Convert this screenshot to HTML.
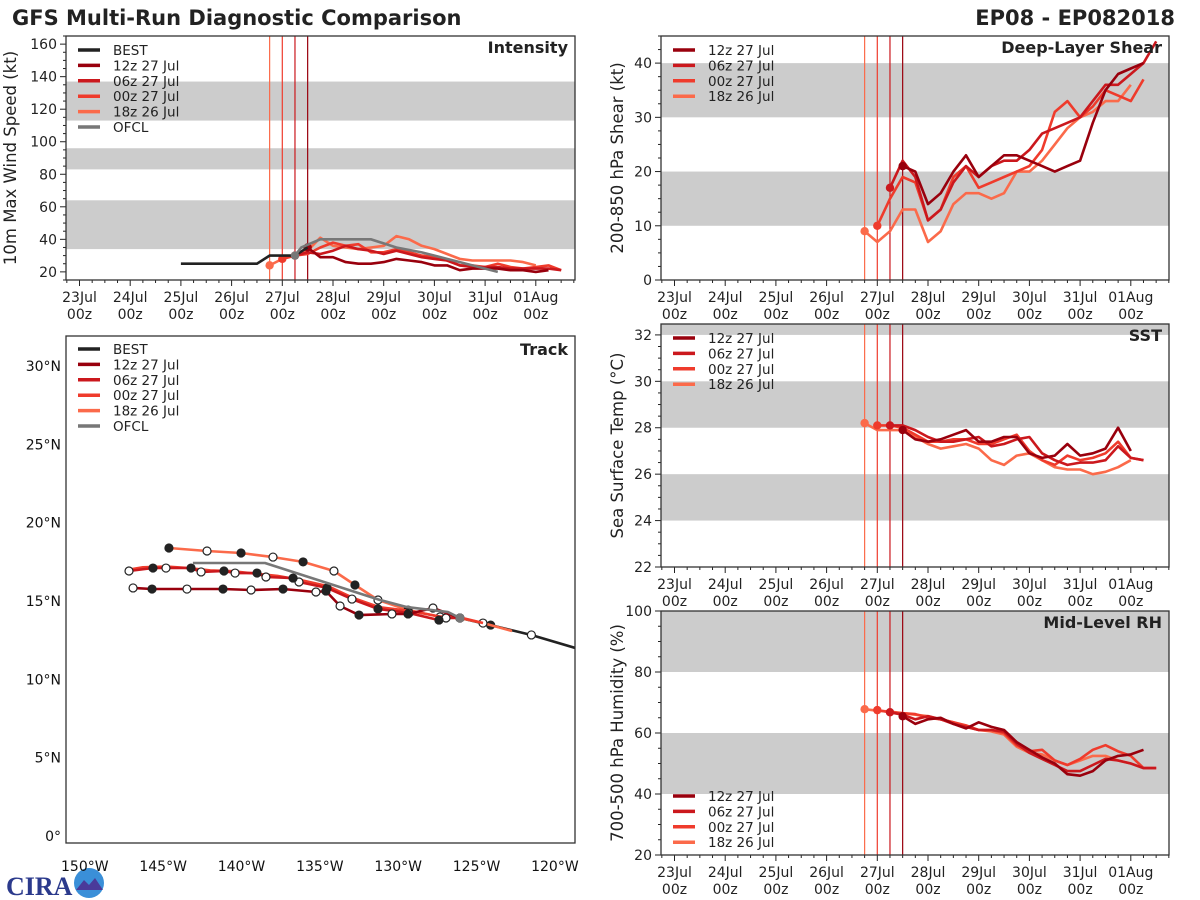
<!DOCTYPE html>
<html><head><meta charset="utf-8"><style>
html,body{margin:0;padding:0;background:#fff;}
svg{display:block;font-family:"DejaVu Sans","Liberation Sans",sans-serif;}
</style></head><body>
<svg id="fig" width="1200" height="900" viewBox="0 0 1200 900">
<rect width="1200" height="900" fill="#fff"/>
<text x="12" y="25" font-size="21" font-weight="bold" fill="#222">GFS Multi-Run Diagnostic Comparison</text>
<text x="1175" y="25" font-size="21" font-weight="bold" fill="#222" text-anchor="end">EP08 - EP082018</text>
<g>
<text x="6" y="895" font-size="26" font-weight="bold" fill="#2b3a8c" font-family="Liberation Serif,serif">CIRA</text>
<circle cx="89" cy="883" r="15" fill="#3a8fd8"/>
<path d="M76 890 L84 880 L89 885 L95 878 L103 890 Z" fill="#4a3a9a"/>
</g>
</svg>
<script>
// ---------- DATA ----------
const dayLabels=['23Jul','24Jul','25Jul','26Jul','27Jul','28Jul','29Jul','30Jul','31Jul','01Aug'];
const runNames=['12z 27 Jul','06z 27 Jul','00z 27 Jul','18z 26 Jul'];
const runStarts=[4.5,4.25,4.0,3.75];
// Intensity (kt), 6-hourly from run start
const int12z=[35,29,29,26,25,25,26,28,27,26,24,24,21,22,22,22,21,21,20,21];
const int06z=[30,32,31,33,36,34,33,31,33,31,29,28,27,24,23,23,23,22,22,22,22,21];
const int00z=[28,30,31,35,38,36,37,32,32,34,32,30,29,27,24,24,23,25,23,22,23,24,21];
const int18z=[24,28,30,33,41,36,35,34,35,36,42,40,36,34,31,28,27,27,27,27,26,24];
const bestT=[2,2.25,2.5,2.75,3,3.25,3.5,3.75,4,4.25,4.5];
const bestV=[25,25,25,25,25,25,25,30,30,30,35];
const ofclT=[4.25,4.375,4.75,5.75,6.25,6.75,7.25,8.25];
const ofclV=[30,35,40,40,35,32,28,20];
// Shear (kt)
const shr12z=[21,20,14,16,20,23,19,21,23,23,22,21,20,21,22,29,35,38,39,40];
const shr06z=[17,22,19,11,13,18,21,19,21,22,22,24,27,28,29,30,33,36,36,38,40,44];
const shr00z=[10,15,19,18,11,13,19,21,17,18,19,20,21,24,31,33,30,32,35,34,33,37];
const shr18z=[9,7,9,13,13,7,9,14,16,16,15,16,20,20,22,25,28,30,31,33,33,36];
// SST (C)
const sst12z=[27.9,27.5,27.4,27.5,27.7,27.9,27.4,27.4,27.6,27.6,26.9,26.7,26.8,27.3,26.8,26.9,27.1,28.0,27.0];
const sst06z=[28.1,28.1,27.9,27.6,27.4,27.4,27.5,27.6,27.2,27.3,27.5,27.6,26.9,26.6,26.4,26.5,26.5,26.6,27.2,26.7,26.6];
const sst00z=[28.1,28.1,28.0,27.7,27.4,27.4,27.5,27.5,27.3,27.3,27.5,27.7,27.0,26.6,26.4,26.8,26.6,26.7,26.9,27.4,26.7,26.6];
const sst18z=[28.2,27.9,27.9,27.9,27.6,27.3,27.1,27.2,27.3,27.1,26.6,26.4,26.8,26.9,26.6,26.3,26.2,26.2,26.0,26.1,26.3,26.6];
// RH (%)
const rh12z=[65.5,63,64.5,65,63,61.5,63.5,62,61,57,54.5,52,50,46.5,46,47.5,51,52.5,53,54.5];
const rh06z=[66.8,66,64.5,65.5,64.5,63,62,61,61,60.5,56.5,53.5,51.5,49.5,47.5,47.5,49.5,51.5,51,50,48.5,48.5];
const rh00z=[67.5,66.8,66.5,66.2,65,64.5,63.5,62.5,61,61,60,56,54,54.5,51,49.5,51.5,54.5,56,54,52.5,48.5,48.5];
const rh18z=[67.8,67.3,67,66.5,66,65.5,64.5,63.5,62,61,60.5,59.5,55.5,53.5,53,51,49.5,51,52.5,52.5,51,50];
// Track (lon, lat)
const trkBestLon=[-118.7,-121.5,-124.1,-126.06];
const trkBestLat=[12.0,12.83,13.46,13.91];
const trk12zLon=[-126.06,-127.78,-129.37,-130.40,-132.50,-133.71,-134.61,-135.25,-137.35,-139.39,-141.18,-143.48,-145.71,-146.92];
const trk12zLat=[13.91,14.55,14.17,14.17,14.10,14.68,15.63,15.57,15.76,15.70,15.76,15.76,15.76,15.83];
const trk06zLon=[-126.06,-126.95,-127.40,-129.31,-131.29,-132.95,-134.54,-136.33,-136.71,-138.44,-139.01,-140.41,-141.12,-142.58,-143.22,-144.82,-145.65,-147.18];
const trk06zLat=[13.91,13.91,13.78,14.23,14.49,15.12,15.83,16.21,16.46,16.53,16.78,16.78,16.91,16.85,17.10,17.10,17.10,16.91];
const trk00zLon=[-124.59,-126.06,-127.30,-129.20,-131.20,-132.90,-134.50,-136.30,-137.70,-139.20,-140.60,-142.00,-143.40,-144.80,-146.30,-147.18];
const trk00zLat=[13.59,13.95,14.00,14.35,14.60,15.20,15.95,16.35,16.60,16.75,16.90,16.95,17.10,17.20,17.15,17.00];
const trk18zLon=[-122.74,-124.59,-126.06,-127.33,-129.37,-131.29,-132.76,-134.10,-136.07,-137.99,-140.03,-142.20,-144.63];
const trk18zLat=[13.08,13.59,13.91,13.98,14.42,15.06,16.02,16.91,17.49,17.80,18.06,18.19,18.38];
const trkOfclLon=[-126.06,-126.82,-129.44,-131.16,-138.50,-143.10];
const trkOfclLat=[13.91,14.29,14.61,15.06,17.42,17.42];
const latTicks=[0,5,10,15,20,25,30];
const lonTicks=[-150,-145,-140,-135,-130,-125,-120];

// ---------- DRAWING ----------
const NS='http://www.w3.org/2000/svg';
const svg=document.getElementById('fig');
const colors=['#99000d','#cb181d','#ef3b2c','#fb6a4a'];
function mk(tag,attrs,parent){const e=document.createElementNS(NS,tag);for(const k in attrs)e.setAttribute(k,attrs[k]);(parent||svg).appendChild(e);return e;}

function timePanel(p){
  const g=mk('g',{});
  
  
  const X=d=>p.xd0+d*50.7;
  const Y=v=>p.y1-(v-p.ymin)/(p.ymax-p.ymin)*(p.y1-p.y0);
  p.X=X;p.Y=Y;
  p.bands.forEach(b=>{
    const r=mk('rect',{x:p.x0,y:Y(Math.min(b[1],p.ymax)),width:p.x1-p.x0,height:Y(b[0])-Y(Math.min(b[1],p.ymax)),fill:'#cccccc'},g);
    
    
  });
  for(let i=0;i<dayLabels.length;i++){
    const x=X(i);
    const t=mk('line',{x1:x,x2:x,y1:p.y1,y2:p.y1+6,stroke:'#222','stroke-width':1},g);
    
    
    const l1=mk('text',{x:x,y:p.y1+22,'font-size':14,'text-anchor':'middle',fill:'#222'},g);
    l1.textContent=dayLabels[i];
    
    
    const l2=mk('text',{x:x,y:p.y1+39,'font-size':14,'text-anchor':'middle',fill:'#222'},g);
    l2.textContent='00z';
    
    
  }
  for(let d=-0.25;d<10.8;d+=0.25){const x=X(d);if(x<p.x0||x>p.x1||Math.abs(d-Math.round(d))<0.01)continue;
    const t=mk('line',{x1:x,x2:x,y1:p.y1,y2:p.y1+3,stroke:'#222','stroke-width':1},g);
    
    }
  for(let v=p.ymin;v<=p.ymax+0.001;v+=p.minor){const y=Y(v);
    const major=Math.abs(v/p.major-Math.round(v/p.major))<0.01;
    const t=mk('line',{x1:p.x0-(major?6:3),x2:p.x0,y1:y,y2:y,stroke:'#222','stroke-width':1},g);
    
    
    if(major){const l=mk('text',{x:p.x0-9,y:y+5,'font-size':14,'text-anchor':'end',fill:'#222'},g);
      l.textContent=Math.round(v);
      
      }
  }
  const yl=mk('text',{x:0,y:0,'font-size':16.5,'text-anchor':'middle',fill:'#222',transform:`translate(${p.ylx},${(p.y0+p.y1)/2}) rotate(-90)`},g);
  yl.textContent=p.ylabel;
  
  
  runStarts.forEach((s,i)=>{const l=mk('line',{x1:X(s),x2:X(s),y1:p.y0,y2:p.y1,stroke:colors[i],'stroke-width':1.2},g);
    
    });
  const clip='clip'+p.name;
  const cp=mk('clipPath',{id:clip},g);mk('rect',{x:p.x0,y:p.y0,width:p.x1-p.x0,height:p.y1-p.y0},cp);
  const sg=mk('g',{'clip-path':`url(#${clip})`},g);
  p.sg=sg;
  for(let i=3;i>=0;i--){
    const vals=p.series[i];const s=runStarts[i];
    const pts=vals.map((v,k)=>X(s+k*0.25).toFixed(1)+','+Y(v).toFixed(1)).join(' ');
    const pl=mk('polyline',{points:pts,fill:'none',stroke:colors[i],'stroke-width':2.6,'stroke-linejoin':'round'},sg);
    
    
    const c=mk('circle',{cx:X(s),cy:Y(vals[0]),r:4.2,fill:colors[i]},sg);
    
    
  }
  const fr=mk('rect',{x:p.x0,y:p.y0,width:p.x1-p.x0,height:p.y1-p.y0,fill:'none',stroke:'#333','stroke-width':1.3},g);
  
  
  const tt=mk('text',{x:p.x1-7,y:p.y0+17,'font-size':16,'font-weight':'bold','text-anchor':'end',fill:'#222'},g);
  tt.textContent=p.title;
  
  
  legend(g,p.x0+12,p.legY,p.legItems);
  return p;
}
function legend(g,x,y,items){
  const lg=mk('g',{},g);
  
  
  items.forEach((it,i)=>{
    const yy=y+i*15.4;
    const l=mk('line',{x1:x,x2:x+22,y1:yy,y2:yy,stroke:it[1],'stroke-width':3.5},lg);
    
    
    const t=mk('text',{x:x+35,y:yy+5,'font-size':13.5,fill:'#222'},lg);
    t.textContent=it[0];
    
    
  });
}
const runLeg=runNames.map((n,i)=>[n,colors[i]]);

const pInt=timePanel({name:'intensity-panel',x0:66,x1:575,y0:36,y1:280,xd0:79.5,ymin:15,ymax:165,major:20,minor:5,ylx:16,
  bands:[[34,64],[83,96],[113,137]],ylabel:'10m Max Wind Speed (kt)',title:'Intensity',
  series:[int12z,int06z,int00z,int18z],legY:50,legItems:[['BEST','#222'],...runLeg,['OFCL','#777']]});
{
  const b=mk('polyline',{points:bestT.map((t,i)=>pInt.X(t)+','+pInt.Y(bestV[i])).join(' '),fill:'none',stroke:'#222','stroke-width':2.6},pInt.sg);
  
  
  const o=mk('polyline',{points:ofclT.map((t,i)=>pInt.X(t)+','+pInt.Y(ofclV[i])).join(' '),fill:'none',stroke:'#777','stroke-width':2.6},pInt.sg);
  
  
  const c=mk('circle',{cx:pInt.X(ofclT[0]),cy:pInt.Y(ofclV[0]),r:4.2,fill:'#777'},pInt.sg);
  
  
}
timePanel({name:'shear-panel',x0:661,x1:1169,y0:36,y1:280,xd0:674.5,ymin:0,ymax:45,major:10,minor:2.5,ylx:623,
  bands:[[10,20],[30,40]],ylabel:'200-850 hPa Shear (kt)',title:'Deep-Layer Shear',
  series:[shr12z,shr06z,shr00z,shr18z],legY:50,legItems:runLeg});
timePanel({name:'sst-panel',x0:661,x1:1169,y0:324,y1:567,xd0:674.5,ymin:22,ymax:32.47,major:2,minor:0.5,ylx:623,
  bands:[[24,26],[28,30],[32,33]],ylabel:'Sea Surface Temp (°C)',title:'SST',
  series:[sst12z,sst06z,sst00z,sst18z],legY:338,legItems:runLeg});
timePanel({name:'rh-panel',x0:661,x1:1169,y0:611,y1:855,xd0:674.5,ymin:20,ymax:100,major:20,minor:5,ylx:623,
  bands:[[40,60],[80,100]],ylabel:'700-500 hPa Humidity (%)',title:'Mid-Level RH',
  series:[rh12z,rh06z,rh00z,rh18z],legY:796,legItems:runLeg});

// ---------- TRACK ----------
(function(){
  const x0=66,x1=575,y0=336,y1=843;
  const LX=lon=>66+(lon+151.2)*15.67;
  const LY=lat=>836-lat*15.67;
  const g=mk('g',{});
  
  
  const cp=mk('clipPath',{id:'cliptrk'},g);mk('rect',{x:x0,y:y0,width:x1-x0,height:y1-y0},cp);
  const sg=mk('g',{'clip-path':'url(#cliptrk)'},g);
  function track(lons,lats,col,name,markers){
    const pl=mk('polyline',{points:lons.map((l,i)=>LX(l).toFixed(1)+','+LY(lats[i]).toFixed(1)).join(' '),fill:'none',stroke:col,'stroke-width':2.6,'stroke-linejoin':'round'},sg);
    
    
    if(markers){lons.forEach((l,i)=>{if(i===0)return;
      const c=mk('circle',{cx:LX(l),cy:LY(lats[i]),r:4,fill:i%2?'#fff':'#222',stroke:'#222','stroke-width':1.2},sg);
      
      });}
  }
  track(trkBestLon,trkBestLat,'#222','best-track',true);
  track(trk18zLon,trk18zLat,colors[3],'track-18z-26-jul',true);
  track(trk00zLon,trk00zLat,colors[2],'track-00z-27-jul',false);
  track(trk06zLon,trk06zLat,colors[1],'track-06z-27-jul',true);
  track(trk12zLon,trk12zLat,colors[0],'track-12z-27-jul',true);
  track(trkOfclLon,trkOfclLat,'#777','track-ofcl',false);
  const c=mk('circle',{cx:LX(trkOfclLon[0]),cy:LY(trkOfclLat[0]),r:4.5,fill:'#777'},sg);
  
  
  latTicks.forEach(l=>{const t=mk('text',{x:61,y:LY(l)+5,'font-size':14,'text-anchor':'end',fill:'#111'},g);
    t.textContent=l===0?'0°':l+'°N';
    
    });
  lonTicks.forEach(l=>{const t=mk('text',{x:LX(l),y:871,'font-size':14,'text-anchor':'middle',fill:'#111'},g);
    t.textContent=(-l)+'°W';
    
    });
  const fr=mk('rect',{x:x0,y:y0,width:x1-x0,height:y1-y0,fill:'none',stroke:'#333','stroke-width':1.3},g);
  
  
  const tt=mk('text',{x:x1-7,y:y0+19,'font-size':16,'font-weight':'bold','text-anchor':'end',fill:'#222'},g);
  tt.textContent='Track';
  
  
  legend(g,78,349,[['BEST','#222'],...runLeg,['OFCL','#777']]);
})();
</script>
</body></html>
